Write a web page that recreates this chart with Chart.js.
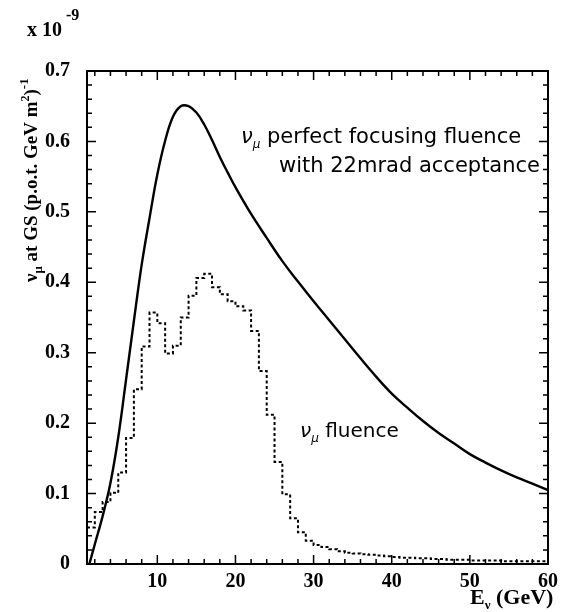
<!DOCTYPE html>
<html><head><meta charset="utf-8">
<style>html,body{margin:0;padding:0;background:#fff}#wrap{position:relative;width:564px;height:612px}</style>
<script src="https://cdn.jsdelivr.net/npm/chart.js@4.4.1/dist/chart.umd.min.js"></script>
</head><body><div id="wrap"><canvas id="c" width="564" height="612"></canvas></div>
<script>
// Perfect focusing fluence (solid curve)
const curveE = [1.3, 2, 3, 4, 5, 6, 7, 8, 9, 10, 11, 12, 13, 14, 15, 16, 17, 18, 19, 20, 22, 24, 26, 28, 30, 32, 34, 36, 38, 40, 42, 44, 46, 48, 50, 52, 54, 56, 58, 60];
const curveV = [0, 0.028, 0.068, 0.115, 0.180, 0.262, 0.345, 0.425, 0.491, 0.553, 0.601, 0.635, 0.650, 0.650, 0.641, 0.624, 0.602, 0.578, 0.556, 0.535, 0.497, 0.463, 0.430, 0.401, 0.373, 0.346, 0.319, 0.292, 0.266, 0.242, 0.222, 0.203, 0.186, 0.171, 0.156, 0.144, 0.133, 0.123, 0.114, 0.105];
// nu_mu fluence histogram (1 GeV bins, left edges; last entry closes the final bin)
const histEdges = [1,2,3,4,5,6,7,8,9,10,11,12,13,14,15,16,17,18,19,20,21,22,23,24,25,26,27,28,29,30,31,32,33,34,35,36,37,38,39,40,41,42,43,44,45,46,47,48,49,50,51,52,53,54,55,56,57,58,59,60];
const histV = [0.052,0.074,0.088,0.101,0.130,0.179,0.248,0.309,0.357,0.342,0.299,0.310,0.350,0.381,0.406,0.412,0.393,0.383,0.373,0.366,0.360,0.331,0.274,0.212,0.145,0.099,0.065,0.045,0.033,0.027,0.024,0.021,0.018,0.016,0.015,0.014,0.013,0.012,0.011,0.010,0.009,0.009,0.008,0.008,0.007,0.007,0.006,0.006,0.006,0.005,0.005,0.005,0.005,0.004,0.004,0.004,0.004,0.004,0.004,0.004];
const xTickValues = [10, 20, 30, 40, 50, 60];
const yTickValues = [0, 0.1, 0.2, 0.3, 0.4, 0.5, 0.6, 0.7];
const xRange = [1, 60];
const yRange = [0, 0.7];

const SERIF = '"Liberation Serif","Times New Roman",serif';
const SANS = '"DejaVu Sans",sans-serif';

function rich(ctx, x, y, segs) {
  for (const [t, f, dy] of segs) {
    ctx.font = f;
    ctx.fillText(t, x, y + (dy || 0));
    x += ctx.measureText(t).width;
  }
  return x;
}

const framePlugin = {
  id: 'frame',
  afterDatasetsDraw(chart) {
    const {ctx, chartArea: a, scales: {x, y}} = chart;
    ctx.save();
    ctx.strokeStyle = '#000';
    ctx.lineWidth = 1.5;
    ctx.beginPath();
    for (let v = 2; v <= xRange[1]; v += 2) {
      const px = x.getPixelForValue(v);
      const L = v % 10 === 0 ? 9 : 5;
      ctx.moveTo(px, a.bottom); ctx.lineTo(px, a.bottom - L);
      ctx.moveTo(px, a.top); ctx.lineTo(px, a.top + L);
    }
    for (let i = 1; i < 35; i++) {
      const py = y.getPixelForValue(i * 0.02);
      const L = i % 5 === 0 ? 9 : 5;
      ctx.moveTo(a.left, py); ctx.lineTo(a.left + L, py);
      ctx.moveTo(a.right, py); ctx.lineTo(a.right - L, py);
    }
    ctx.stroke();
    ctx.lineWidth = 2;
    ctx.strokeRect(a.left, a.top, a.right - a.left, a.bottom - a.top);

    ctx.fillStyle = '#000';
    ctx.textAlign = 'left';
    ctx.textBaseline = 'alphabetic';
    // x 10^-9
    rich(ctx, 27, 36, [['x 10', 'bold 20px ' + SERIF, 0], [' -9', 'bold 16px ' + SERIF, -16]]);
    // x title
    rich(ctx, 470, 604, [['E', 'bold 22px ' + SERIF, 0], ['ν', 'bold 13px ' + SERIF, 5], [' (GeV)', 'bold 22px ' + SERIF, 0]]);
    // y title (rotated)
    ctx.save();
    ctx.translate(37, 282);
    ctx.rotate(-Math.PI / 2);
    rich(ctx, 0, 0, [
      ['ν', 'bold 19px ' + SERIF, 0], ['μ', 'bold 13px ' + SERIF, 5],
      [' at GS (p.o.t. GeV m', 'bold 19px ' + SERIF, 0], ['2', 'bold 12px ' + SERIF, -8],
      [')', 'bold 19px ' + SERIF, 0], ['-1', 'bold 13px ' + SERIF, -9]
    ]);
    ctx.restore();
    // annotations
    rich(ctx, 241, 143, [['ν', 'italic 21px ' + SANS, 0], ['μ', 'italic 12px ' + SANS, 5], [' perfect focusing fluence', '21px ' + SANS, 0]]);
    rich(ctx, 279, 172, [['with 22mrad acceptance', '21px ' + SANS, 0]]);
    rich(ctx, 300, 437, [['ν', 'italic 20px ' + SANS, 0], ['μ', 'italic 12px ' + SANS, 5], [' fluence', '20px ' + SANS, 0]]);
    ctx.restore();
  }
};

new Chart(document.getElementById('c'), {
  type: 'line',
  data: {
    datasets: [
      {
        data: curveE.map((e, i) => ({x: e, y: curveV[i]})),
        borderColor: '#000', borderWidth: 2.4, pointRadius: 0,
        tension: 0.4, fill: false
      },
      {
        data: histEdges.map((e, i) => ({x: e, y: histV[i]})),
        borderColor: '#000', borderWidth: 2, borderDash: [3, 2.5], pointRadius: 0,
        stepped: 'before', fill: false
      }
    ]
  },
  options: {
    responsive: false, animation: false, devicePixelRatio: 1,
    layout: {padding: {top: 71, right: 11, left: 0, bottom: 0}},
    plugins: {legend: {display: false}, tooltip: {enabled: false}},
    scales: {
      x: {
        type: 'linear', min: xRange[0], max: xRange[1],
        afterFit: s => { s.height = 48; },
        afterBuildTicks: s => { s.ticks = xTickValues.map(v => ({value: v})); },
        grid: {display: false, drawTicks: false}, border: {display: false},
        ticks: {color: '#000', padding: 6, maxRotation: 0, font: {family: SERIF, weight: 'bold', size: 20}}
      },
      y: {
        type: 'linear', min: yRange[0], max: yRange[1],
        afterFit: s => { s.width = 87; },
        afterBuildTicks: s => { s.ticks = yTickValues.map(v => ({value: v})); },
        grid: {display: false, drawTicks: false}, border: {display: false},
        ticks: {color: '#000', padding: 17, font: {family: SERIF, weight: 'bold', size: 20},
          callback: v => String(Math.round(v * 10) / 10)}
      }
    }
  },
  plugins: [framePlugin]
});
</script>
</body></html>
